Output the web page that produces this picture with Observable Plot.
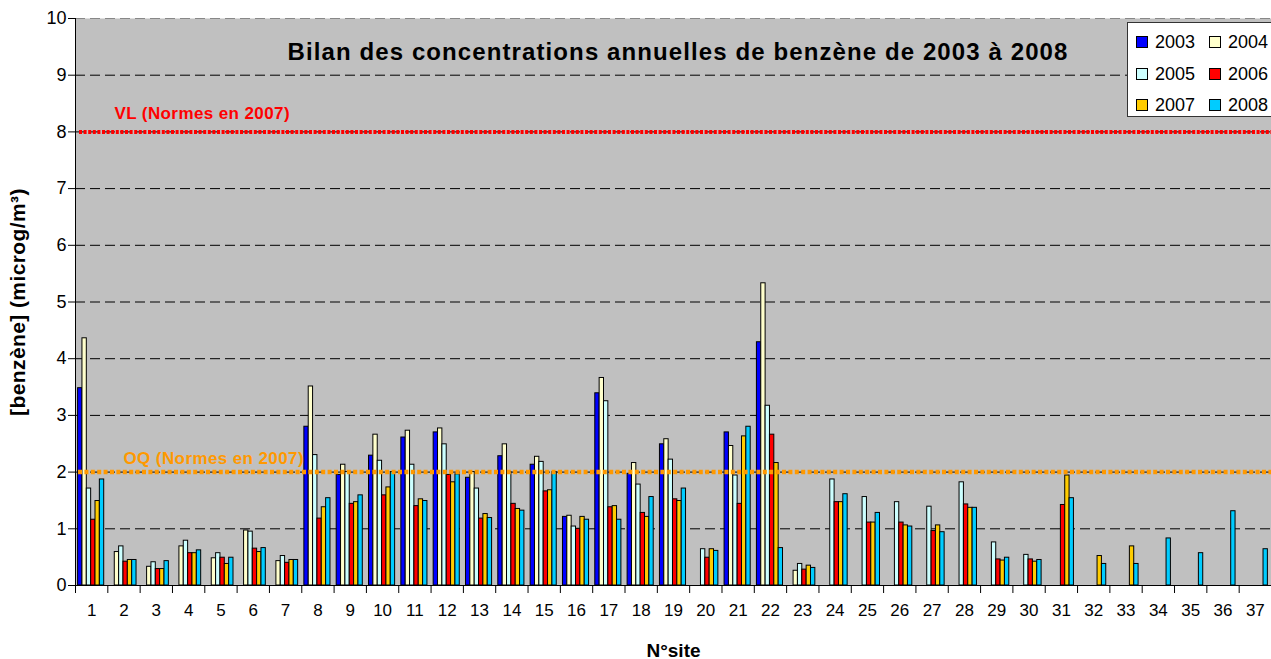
<!DOCTYPE html>
<html>
<head>
<meta charset="utf-8">
<script src="https://cdn.jsdelivr.net/npm/d3@7"></script>
<script src="https://cdn.jsdelivr.net/npm/@observablehq/plot@0.6"></script>
<style>
  html, body { margin: 0; padding: 0; background: #fff; }
  #wrap { position: relative; width: 1271px; height: 659px; font-family: "Liberation Sans", Arial, sans-serif; }
  #legend { position: absolute; left: 1127px; top: 22px; width: 150px; height: 95px; background: #fff; border: 1px solid #333; box-sizing: border-box; }
  .item { position: absolute; font-size: 18px; line-height: 18px; color: #000; }
  .sw { position: absolute; width: 12px; height: 12px; border: 1px solid #000; box-sizing: border-box; }
</style>
</head>
<body>
<div id="wrap"><div id="legend"></div></div>
<script>
const sites = [1,2,3,4,5,6,7,8,9,10,11,12,13,14,15,16,17,18,19,20,21,22,23,24,25,26,27,28,29,30,31,32,33,34,35,36,37];
const years = ["2003","2004","2005","2006","2007","2008"];
const colors = ["#0000FF","#FFFFCC","#CCFFFF","#FF0000","#FFCC00","#00CCFF"];

const v2003 = [3.48,null,null,null,null,null,null,2.80,1.95,2.29,2.61,2.70,1.90,2.28,2.13,1.21,3.39,1.97,2.49,null,2.70,4.29,null,null,null,null,null,null,null,null,null,null,null,null,null,null,null];
const v2004 = [4.36,0.59,0.33,0.69,0.48,0.97,0.43,3.51,2.13,2.66,2.73,2.77,2.00,2.49,2.27,1.23,3.66,2.16,2.58,null,2.46,5.33,0.26,null,null,null,null,null,null,null,null,null,null,null,null,null,null];
const v2005 = [1.71,0.69,0.41,0.79,0.57,0.95,0.52,2.30,2.00,2.20,2.13,2.49,1.71,2.00,2.18,1.04,3.25,1.78,2.22,0.64,1.94,3.17,0.38,1.87,1.56,1.47,1.39,1.82,0.76,0.54,null,null,null,null,null,null,null];
const v2006 = [1.16,0.42,0.29,0.57,0.49,0.65,0.40,1.18,1.44,1.59,1.40,1.95,1.18,1.44,1.66,1.00,1.38,1.28,1.52,0.49,1.44,2.66,0.28,1.47,1.11,1.11,0.96,1.43,0.46,0.46,1.42,null,null,null,null,null,null];
const v2007 = [1.49,0.45,0.29,0.57,0.38,0.59,0.45,1.38,1.47,1.73,1.52,1.82,1.26,1.35,1.68,1.21,1.40,1.21,1.49,0.64,2.63,2.16,0.35,1.47,1.11,1.06,1.06,1.37,0.44,0.42,1.94,0.52,0.69,null,null,null,null];
const v2008 = [1.87,0.45,0.43,0.62,0.49,0.66,0.45,1.54,1.59,2.00,1.49,1.96,1.19,1.32,2.00,1.16,1.16,1.56,1.71,0.61,2.80,0.66,0.31,1.61,1.28,1.04,0.94,1.37,0.49,0.45,1.54,0.38,0.38,0.83,0.57,1.31,0.64];
const series = [v2003, v2004, v2005, v2006, v2007, v2008];

const yTicks = [0,1,2,3,4,5,6,7,8,9,10];
const gridLines = [1,2,3,4,5,6,7,8,9];
const vlValue = 8, oqValue = 2;
const vlLabel = "VL (Normes en 2007)";
const oqLabel = "OQ (Normes en 2007)";
const title = "Bilan des concentrations annuelles de benzène de 2003 à 2008";
const yLabel = "[benzène] (microg/m³)";
const xLabel = "N°site";

const W = 1271, H = 659, mL = 75, mR = 0, mT = 18, mB = 74;
const bw = (W - mL - mR) / sites.length;
const pad = 2.6, barW = 4.35;

const font = "'Liberation Sans', Arial, sans-serif";

const barMarks = years.map((yr, k) => {
  const data = sites.map((s, i) => ({site: s, value: series[k][i]})).filter(d => d.value != null);
  return Plot.barY(data, {
    x: "site", y: "value",
    fill: colors[k], stroke: "#000", strokeWidth: 1,
    insetLeft: pad + k * barW,
    insetRight: bw - pad - (k + 1) * barW
  });
});

const chart = Plot.plot({
  width: W, height: H,
  marginLeft: mL, marginRight: mR, marginTop: mT, marginBottom: mB,
  style: {fontFamily: font, background: "#fff", overflow: "visible"},
  x: {type: "band", domain: sites, padding: 0, round: false, axis: null},
  y: {domain: [0, 10], axis: null},
  marks: [
    Plot.frame({fill: "#C0C0C0", stroke: null}),
    Plot.ruleY(gridLines, {stroke: "#000", strokeWidth: 1, strokeDasharray: "10,5"}),
    Plot.ruleY([10], {stroke: "#888", strokeWidth: 1, strokeDasharray: "10,5"}),
    ...barMarks,
    Plot.ruleY([vlValue], {stroke: "#FF0000", strokeWidth: 4, strokeDasharray: "3,1.6", insetLeft: 4}),
    Plot.ruleY([oqValue], {stroke: "#FF9900", strokeWidth: 4.5, strokeDasharray: "4,2.4", insetLeft: 3}),
    Plot.text([vlLabel], {frameAnchor: "left", y: () => vlValue, dx: 39, dy: -18, textAnchor: "start", lineAnchor: "middle", fill: "#FF0000", fontSize: 17, fontWeight: "bold"}),
    Plot.text([oqLabel], {frameAnchor: "left", y: () => oqValue, dx: 48, dy: -14, textAnchor: "start", lineAnchor: "middle", fill: "#FF9900", fontSize: 17, fontWeight: "bold"}),
    Plot.text([title], {frameAnchor: "top", dx: 4.5, dy: 34, textAnchor: "middle", lineAnchor: "middle", fontSize: 24, fontWeight: "bold", fill: "#000"}),
    Plot.ruleY([0], {stroke: "#000", strokeWidth: 1}),
    Plot.ruleX(sites, {x: d => d, dx: -bw / 2, stroke: "#000", strokeWidth: 1, insetTop: H - mT - mB, insetBottom: -8}),
    Plot.ruleX([sites[0]], {x: d => d, dx: -bw / 2, stroke: "#000", strokeWidth: 1}),
    Plot.axisX({tickSize: 0, tickPadding: 18, fontSize: 17, label: null}),
    Plot.axisY({ticks: yTicks, tickSize: 7, tickPadding: 2, fontSize: 18, label: null, tickFormat: d => String(d)}),
    Plot.text([xLabel], {frameAnchor: "bottom", dy: 71, textAnchor: "middle", fontSize: 19, fontWeight: "bold", fill: "#000"}),
    Plot.text([yLabel], {frameAnchor: "left", dx: -57, rotate: -90, textAnchor: "middle", lineAnchor: "middle", fontSize: 21, fontWeight: "bold", fill: "#000"})
  ]
});

// letter spacing tweaks to match the reference's wide type
d3.select(chart).selectAll("text").each(function() {
  const t = this.textContent;
  if (t === title) this.setAttribute("letter-spacing", "1.1");
  else if (t === yLabel) this.setAttribute("letter-spacing", "0.4");
  else if (t === vlLabel || t === oqLabel) this.setAttribute("letter-spacing", "0.4");
});

const wrap = document.getElementById("wrap");
wrap.insertBefore(chart, wrap.firstChild);

const legend = document.getElementById("legend");
years.forEach((yr, k) => {
  const col = k % 2, row = Math.floor(k / 2);
  const sw = document.createElement("div");
  sw.className = "sw";
  sw.style.background = colors[k];
  sw.style.left = (8 + col * 73) + "px";
  sw.style.top = (13 + row * 31.7) + "px";
  legend.appendChild(sw);
  const t = document.createElement("div");
  t.className = "item";
  t.textContent = yr;
  t.style.left = (27 + col * 73) + "px";
  t.style.top = (10 + row * 31.7) + "px";
  legend.appendChild(t);
});
</script>
</body>
</html>
